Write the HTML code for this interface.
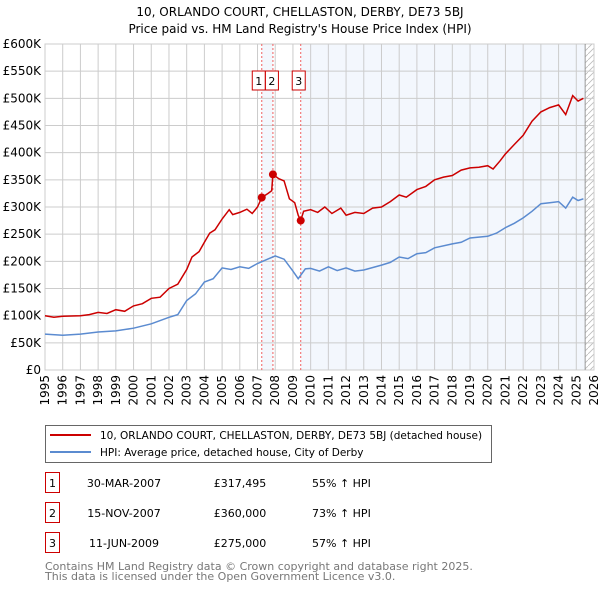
<!DOCTYPE html>
<html><head><meta charset="utf-8"><style>
body{margin:0;background:#fff;}
svg{display:block;font-family:"DejaVu Sans","Liberation Sans",sans-serif;}
</style></head><body>
<svg id="c" width="600" height="590" viewBox="0 0 600 590">
<text x="300" y="16" text-anchor="middle" font-size="12">10, ORLANDO COURT, CHELLASTON, DERBY, DE73 5BJ</text>
<text x="300" y="33" text-anchor="middle" font-size="12">Price paid vs. HM Land Registry's House Price Index (HPI)</text>
<g id="plot"></g>
<g>
<rect x="45.5" y="425.5" width="446" height="37" fill="#fff" stroke="#666"/>
<line x1="50" y1="435" x2="91" y2="435" stroke="#cc0000" stroke-width="2"/>
<text x="100" y="439" font-size="10.5">10, ORLANDO COURT, CHELLASTON, DERBY, DE73 5BJ (detached house)</text>
<line x1="50" y1="452" x2="91" y2="452" stroke="#5b8bd0" stroke-width="2"/>
<text x="100" y="456" font-size="10.5">HPI: Average price, detached house, City of Derby</text>
</g>
<g id="tbl" font-size="11"></g>
<text x="45" y="570" font-size="11" fill="#777">Contains HM Land Registry data © Crown copyright and database right 2025.</text>
<text x="45" y="580" font-size="11" fill="#777">This data is licensed under the Open Government Licence v3.0.</text>
</svg>
<script>
const yTicks=[0,50,100,150,200,250,300,350,400,450,500,550,600];
const yLabels=["£0","£50K","£100K","£150K","£200K","£250K","£300K","£350K","£400K","£450K","£500K","£550K","£600K"];
const xYears=[1995,1996,1997,1998,1999,2000,2001,2002,2003,2004,2005,2006,2007,2008,2009,2010,2011,2012,2013,2014,2015,2016,2017,2018,2019,2020,2021,2022,2023,2024,2025,2026];
const redT=[1995,1995.5,1996,1997,1997.5,1998,1998.5,1999,1999.5,2000,2000.5,2001,2001.5,2002,2002.5,2003,2003.3,2003.7,2004,2004.3,2004.6,2005,2005.4,2005.6,2006,2006.4,2006.7,2007,2007.24,2007.6,2007.8,2007.87,2008.2,2008.5,2008.8,2009.1,2009.3,2009.44,2009.6,2010,2010.4,2010.8,2011.2,2011.7,2012,2012.5,2013,2013.5,2014,2014.5,2015,2015.4,2016,2016.5,2017,2017.5,2018,2018.5,2019,2019.5,2020,2020.3,2020.7,2021,2021.5,2022,2022.5,2023,2023.5,2024,2024.4,2024.8,2025.1,2025.4];
const redV=[100,97,99,100,102,106,104,111,108,118,122,132,134,150,158,185,208,218,235,252,258,278,295,286,290,296,288,300,317.5,325,330,360,352,348,315,308,285,275,292,295,290,300,288,298,285,290,288,298,300,310,322,318,332,338,350,355,358,368,372,373,376,370,385,398,415,432,458,475,483,488,470,505,495,500];
const blueT=[1995,1996,1997,1998,1999,2000,2001,2002,2002.5,2003,2003.5,2004,2004.5,2005,2005.5,2006,2006.5,2007,2007.5,2008,2008.5,2009,2009.3,2009.7,2010,2010.5,2011,2011.5,2012,2012.5,2013,2014,2014.5,2015,2015.5,2016,2016.5,2017,2018,2018.5,2019,2020,2020.5,2021,2021.5,2022,2022.5,2023,2023.5,2024,2024.4,2024.8,2025.1,2025.4];
const blueV=[66,64,66,70,72,77,85,97,102,128,140,162,168,188,185,190,187,196,203,210,204,182,168,186,187,182,190,183,188,182,184,193,198,208,205,214,216,225,232,235,243,246,252,262,270,280,292,306,308,310,298,318,312,315];
const saleT=[2007.24,2007.87,2009.44];
const saleV=[317.495,360,275];
const saleLabels=["1","2","3"];
const saleDates=["30-MAR-2007","15-NOV-2007","11-JUN-2009"];
const salePrices=["£317,495","£360,000","£275,000"];
const saleHpi=["55% ↑ HPI","73% ↑ HPI","57% ↑ HPI"];
const X0=45,X1=594,Y0=370,Y1=44;
const sx=t=>X0+(t-1995)/31*(X1-X0);
const sy=v=>Y0-v/600*(Y0-Y1);
const NS="http://www.w3.org/2000/svg";
const plot=document.getElementById('plot');
function mk(tag,attrs,parent){const e=document.createElementNS(NS,tag);for(const k in attrs)e.setAttribute(k,attrs[k]);(parent||plot).appendChild(e);return e;}
let e;
e=mk('rect',{x:sx(saleT[0]),y:Y1,width:sx(saleT[1])-sx(saleT[0]),height:Y0-Y1,fill:'#eef3fc',opacity:0.7});


e=mk('rect',{x:sx(saleT[2]),y:Y1,width:sx(2025.5)-sx(saleT[2]),height:Y0-Y1,fill:'#eef3fc',opacity:0.7});


const defs=mk('defs',{});
const pat=mk('pattern',{id:'h',width:6,height:6,patternUnits:'userSpaceOnUse'},defs);
mk('path',{d:'M0,6 L6,0',stroke:'#bbb','stroke-width':0.8},pat);
e=mk('rect',{x:sx(2025.5),y:Y1,width:X1-sx(2025.5),height:Y0-Y1,fill:'url(#h)'});


yTicks.forEach((v,i)=>{
 mk('line',{x1:X0,x2:X1,y1:sy(v),y2:sy(v),stroke:'#ccc','stroke-width':1});
 e=mk('text',{x:X0-4,y:sy(v)+4,'text-anchor':'end','font-size':12});
 e.textContent=yLabels[i];
 
 
});
xYears.forEach(y=>{
 mk('line',{x1:sx(y),x2:sx(y),y1:Y1,y2:Y0,stroke:'#ccc','stroke-width':1});
 e=mk('text',{transform:`translate(${sx(y)+4},${Y0+5}) rotate(-90)`,'text-anchor':'end','font-size':12});
 e.textContent=y;
 
 
});
mk('rect',{x:X0,y:Y1,width:X1-X0,height:Y0-Y1,fill:'none',stroke:'#ccc'});
mk('line',{x1:sx(2025.5),x2:sx(2025.5),y1:Y1,y2:Y0,stroke:'#999'});
saleT.forEach((t,i)=>{
 mk('line',{x1:sx(t),x2:sx(t),y1:Y1,y2:Y0,stroke:'#f06060','stroke-dasharray':'2,2','stroke-width':1});
});
function pts(T,V){return T.map((t,i)=>sx(t).toFixed(1)+','+sy(V[i]).toFixed(1)).join(' ');}
e=mk('polyline',{points:pts(blueT,blueV),fill:'none',stroke:'#5b8bd0','stroke-width':1.5});


e=mk('polyline',{points:pts(redT,redV),fill:'none',stroke:'#cc0000','stroke-width':1.5});


saleT.forEach((t,i)=>{
 e=mk('circle',{cx:sx(t),cy:sy(saleV[i]),r:4,fill:'#cc0000'});
 
 
});
const bx=[sx(saleT[0])-3,sx(saleT[1])-1,sx(saleT[2])-2];
saleT.forEach((t,i)=>{
 const g=mk('g',{});
 
 
 const cx=bx[i];
 mk('rect',{x:cx-6.5,y:71,width:13,height:19,fill:'#fff',stroke:'#cc0000'},g);
 const tx=mk('text',{x:cx,y:85,'text-anchor':'middle','font-size':11},g);
 tx.textContent=saleLabels[i];
});
const tbl=document.getElementById('tbl');
const rowY=[483,513,543];
saleLabels.forEach((l,i)=>{
 const g=mk('g',{},tbl);
 
 
 mk('rect',{x:45.5,y:rowY[i]-10.5,width:14,height:20,fill:'#fff',stroke:'#cc0000'},g);
 let t=mk('text',{x:52.5,y:rowY[i]+4,'text-anchor':'middle'},g);t.textContent=l;
 t=mk('text',{x:124,y:rowY[i]+4,'text-anchor':'middle'},g);t.textContent=saleDates[i];
 t=mk('text',{x:240,y:rowY[i]+4,'text-anchor':'middle'},g);t.textContent=salePrices[i];
 t=mk('text',{x:312,y:rowY[i]+4},g);t.textContent=saleHpi[i];
});
</script>
</body></html>
